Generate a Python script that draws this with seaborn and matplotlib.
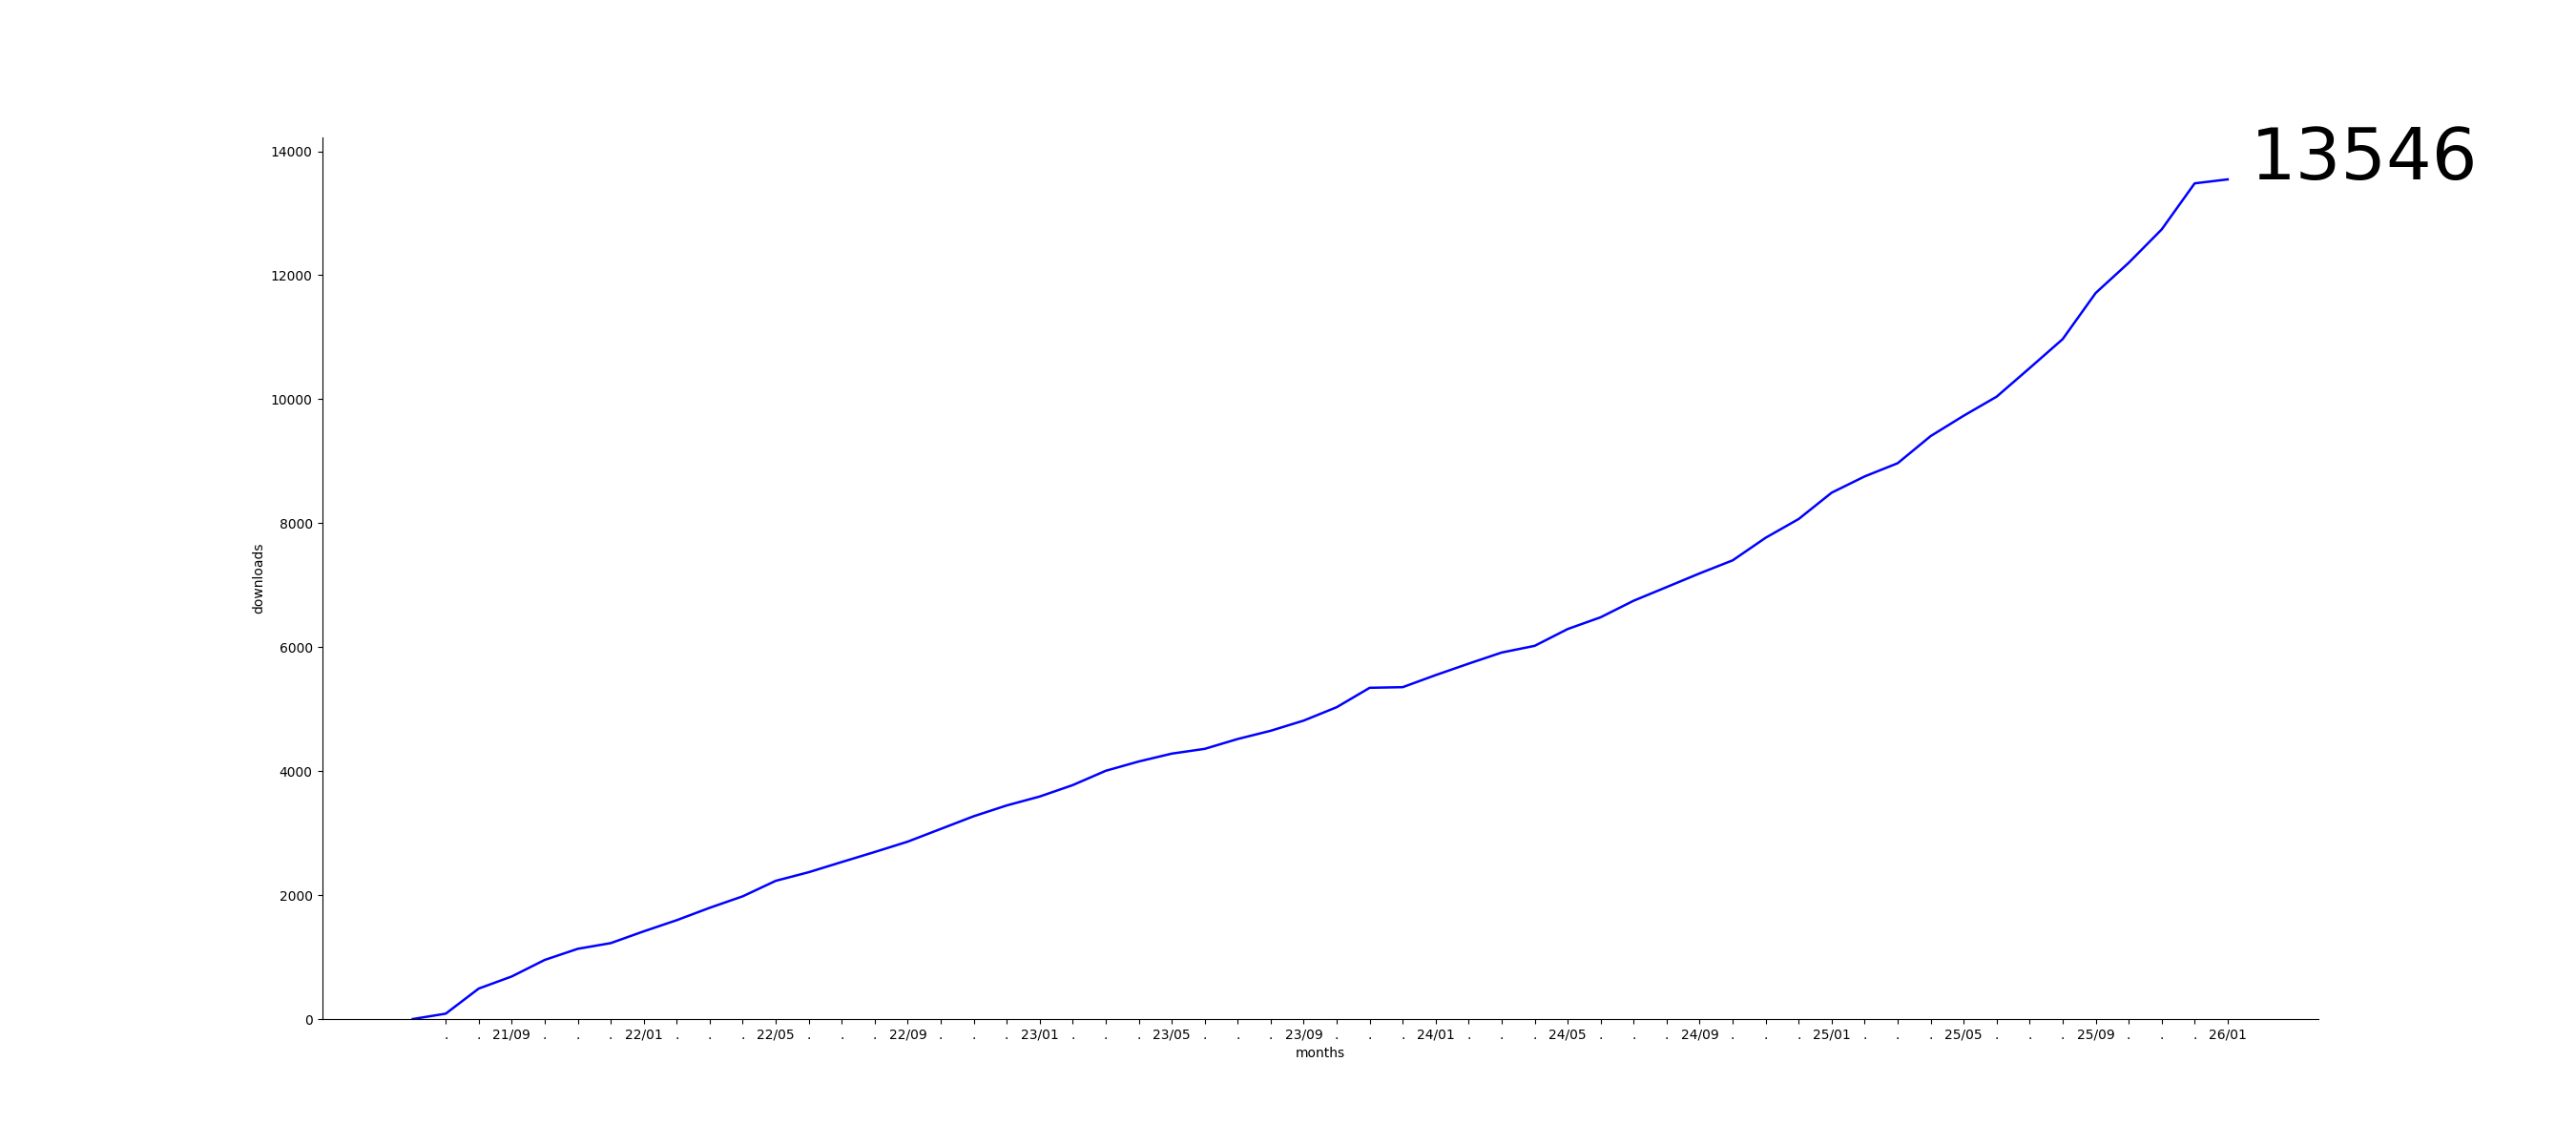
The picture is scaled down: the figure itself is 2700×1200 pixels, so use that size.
import pandas as pd
import matplotlib
matplotlib.use('Agg')
import matplotlib.pyplot as plt
import seaborn as sns

# monthly cumulative downloads, 2021-06 .. 2026-01
months = pd.date_range('2021-06-01', '2026-01-01', freq='MS')
downloads = [
    0, 87, 492, 687, 954, 1133, 1225, 1415, 1595, 1795,
    1980, 2230, 2369, 2533, 2695, 2862, 3067, 3272, 3446, 3590,
    3774, 4005, 4155, 4282, 4359, 4518, 4651, 4815, 5031, 5344,
    5354, 5549, 5734, 5913, 6021, 6292, 6482, 6749, 6969, 7190,
    7400, 7765, 8067, 8492, 8754, 8967, 9405, 9733, 10041, 10502,
    10969, 11713, 12200, 12738, 13482, 13546,
]
month_labels = [m.strftime('%y/%m') if m.month in (1, 5, 9) else '.' for m in months]

df = pd.DataFrame({'idx': range(len(months)), 'downloads': downloads})

fig, ax = plt.subplots(figsize=(27, 12), dpi=100)
sns.lineplot(data=df, x='idx', y='downloads', color='blue', linewidth=1.8, ax=ax)

# no tick for the first month
ax.set_xticks(df['idx'][1:])
ax.set_xticklabels(month_labels[1:])
ax.set_ylim(bottom=0)
ax.set_xlabel('months')
ax.set_ylabel('downloads')

last = df.iloc[-1]
ax.text(last['idx'] + 0.7, last['downloads'], str(int(last['downloads'])),
        fontsize=54, va='baseline', ha='left')

sns.despine()
fig.savefig('out.png', dpi=100)
